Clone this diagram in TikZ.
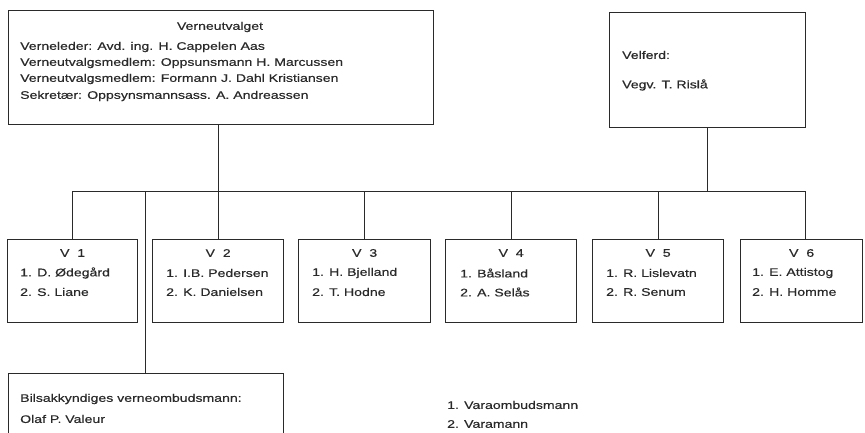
\documentclass[tikz,border=0pt]{standalone}
\usepackage{fontspec}
\setmainfont{Liberation Sans}[FakeStretch=1.28,FakeBold=0.4]
\definecolor{ink}{HTML}{2A2A2A}
\begin{document}
\begin{tikzpicture}[x=1pt,y=-1pt,
  box/.style={draw=ink,line width=1.3pt,rectangle,anchor=north west,inner sep=0pt},
  wire/.style={draw=ink,line width=0.8pt},
  txt/.style={anchor=west,inner sep=0pt,text=ink,font=\fontsize{11}{13}\selectfont},
  ttl/.style={anchor=center,inner sep=0pt,text=ink,font=\fontsize{11}{13}\selectfont}]
\clip (0,0) rectangle (865,432);
\fill[white] (0,0) rectangle (865,432);
% top boxes
\node[box,minimum width=425,minimum height=114] (top) at (8,10) {};
\node[ttl] (topt) at (220,27) {Verneutvalget};
\node[txt] (t1) at (20,47) {Verneleder: Avd. ing. H. Cappelen Aas};
\node[txt] (t2) at (20,63) {Verneutvalgsmedlem: Oppsunsmann H. Marcussen};
\node[txt] (t3) at (20,79) {Verneutvalgsmedlem: Formann J. Dahl Kristiansen};
\node[txt] (t4) at (20,96) {Sekretær: Oppsynsmannsass. A. Andreassen};
\node[box,minimum width=196,minimum height=115] (vel) at (609,12) {};
\node[txt] (v1) at (622,55) {Velferd:};
\node[txt] (v2) at (622,85) {Vegv. T. Rislå};
% V boxes
\foreach \n/\x/\w/\a/\b/\tx in {1/7/130/1. D. Ødegård/2. S. Liane/20,
  2/152/131/1. I.B. Pedersen/2. K. Danielsen/166,
  3/298/132/1. H. Bjelland/2. T. Hodne/312,
  4/445/131/1. Båsland/2. A. Selås/460,
  5/592/131/1. R. Lislevatn/2. R. Senum/606,
  6/740/122/1. E. Attistog/2. H. Homme/752}{
  \node[box,minimum width=\w,minimum height=83] (V\n) at (\x,239) {};
  \node[ttl] (V\n t) at ([yshift=-14]V\n.north) {V\ \ \n};
  \node[txt] (V\n a) at (\tx,273) {\a};
  \node[txt] (V\n b) at (\tx,292) {\b};
}
% bottom box
\node[box,minimum width=275,minimum height=80] (bil) at (8,373) {};
\node[txt] (b1) at (20,399) {Bilsakkyndiges verneombudsmann:};
\node[txt] (b2) at (20,419) {Olaf P. Valeur};
\node[txt] (l1) at (447,405) {1. Varaombudsmann};
\node[txt] (l2) at (447,424) {2. Varamann};
% connectors
\coordinate (busL) at (72,191);
\coordinate (busR) at (805,191);
\coordinate (busB) at (145,191);
\draw[wire] (busL) -- (busR);
\draw[wire] (busL) -- (busL |- V1.north);
\draw[wire] (top.south -| V2.north) -- (V2.north);
\draw[wire] (busL -| V3.north) -- (V3.north);
\draw[wire] (busL -| V4.north) -- (V4.north);
\draw[wire] (busL -| V5.north) -- (V5.north);
\draw[wire] (busR) -- (busR |- V6.north);
\draw[wire] (vel.south) -- (vel.south |- busR);
\draw[wire] (busB) -- (busB |- bil.north);
\end{tikzpicture}
\end{document}
